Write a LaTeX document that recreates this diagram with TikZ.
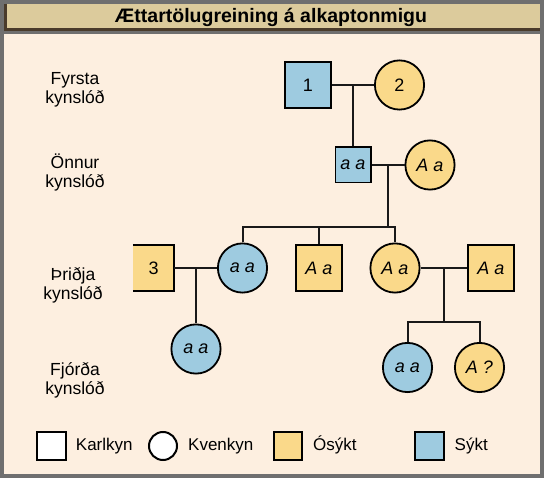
\documentclass[tikz,border=0pt]{standalone}
\usepackage{fontspec}
\setmainfont{Liberation Sans}
\usetikzlibrary{positioning}

\definecolor{framegray}{HTML}{6F6F6F}
\definecolor{cream}{HTML}{FDEFE0}
\definecolor{titletan}{HTML}{DCCB9C}
\definecolor{titlebrown}{HTML}{4A3B2B}
\definecolor{sickblue}{HTML}{9ECBE0}
\definecolor{wellyellow}{HTML}{FAD98A}

\begin{document}
\begin{tikzpicture}[x=1pt, y=-1pt,
		person/.style={draw=black, line width=1.8pt, inner sep=0pt, font=\fontsize{18}{20}\selectfont},
		man/.style={person, rectangle, minimum size=46.2pt},
		woman/.style={person, circle, minimum size=49.2pt},
		sick/.style={fill=sickblue},
		well/.style={fill=wellyellow},
		gen/.style={align=center, font=\fontsize{17.5}{19}\selectfont},
		link/.style={draw=black!90, line width=2pt},
		legtext/.style={inner sep=0pt, text height=12.5pt, text depth=3.7pt, font=\fontsize{17}{19}\selectfont}]
		\useasboundingbox (0, 0) rectangle (544, 478);
		
		% frame, body and title bar
		\fill[framegray] (0, 0) rectangle (544, 478);
		\fill[cream] (4, 34) rectangle (540, 474);
		\fill[titletan] (4, 4) rectangle (540, 29);
		\draw[titlebrown, line width=3pt] (5.5, 4) -- (5.5, 29.5) -- (540, 29.5);
		\node[font=\bfseries\fontsize{19.5}{22}\selectfont] (title) at (271, 17.5) {Ættartölugreining á alkaptonmigu};
		
		% generation labels
		\node[gen] (g1) at (75, 90) {Fyrsta\\kynslóð};
		\node[gen] (g2) at (75, 172.5) {Önnur\\kynslóð};
		\node[gen] (g3) at (73, 285) {Þriðja\\kynslóð};
		\node[gen] (g4) at (75, 380) {Fjórða\\kynslóð};
		
		% first and second generation
		\node[man, sick] (p1) at (308, 85) {1};
		\node[woman, well] (p2) at (399.5, 85) {2};
		\node[man, sick, minimum size=35.2pt] (p4) at (353, 165) {\itshape a a};
		\node[woman, well] (p5) at (430, 165) {\itshape A a};
		
		% third generation
		% box 3 is cut off on the left, so it has no left side
		\node[well, inner sep=0pt, minimum width=41.1pt, minimum height=46.2pt, font=\fontsize{18}{20}\selectfont] (p3) at (153.6, 268) {3};
		\draw[line width=1.8pt] (p3.north west) -- (p3.north east) -- (p3.south east) -- (p3.south west);
		\node[woman, sick] (p6) at (242.5, 268) {\itshape a a};
		\node[man, well] (p7) at (319, 268) {\itshape A a};
		\node[woman, well] (p8) at (395, 268) {\itshape A a};
		\node[man, well] (p9) at (491, 268) {\itshape A a};
		
		% fourth generation
		\node[woman, sick] (p10) at (196, 349) {\itshape a a};
		\node[woman, sick] (p11) at (407.5, 367.5) {\itshape a a};
		\node[woman, well] (p12) at (479.5, 367.5) {\itshape A ?};
		
		% couples and children
		\coordinate (m1) at (353, 85);
		\coordinate (m2) at (387.5, 165);
		\coordinate (s2) at (387.5, 227);
		\coordinate (m3) at (196, 268);
		\coordinate (m4) at (444, 268);
		\coordinate (s4) at (444, 322);
		\draw[link] (p1) -- (p2);
		\draw[link] (m1) -- (p4);
		\draw[link] (p4) -- (p5);
		\draw[link] (m2) -- (s2);
		\draw[link] (p6.north) |- (s2) -| (p8.north);
		\draw[link] (p7.north) -- (p7.north |- s2);
		\draw[link] (p3.east) -- (p6);
		\draw[link] (m3) -- (p10);
		\draw[link] (p8) -- (p9);
		\draw[link] (m4) -- (s4);
		\draw[link] (p11.north) |- (s4) -| (p12.north);
		
		% legend
		\node[man, fill=white, line width=2pt, minimum size=28.5pt] (k1) at (51.5, 446) {};
		\node[legtext, right=9pt of k1] (t1) {Karlkyn};
		\node[woman, fill=white, line width=2pt, minimum size=28pt] (k2) at (163, 446) {};
		\node[legtext, right=10pt of k2] (t2) {Kvenkyn};
		\node[man, well, line width=2pt, minimum size=28.5pt] (k3) at (288, 446) {};
		\node[legtext, right=9.75pt of k3] (t3) {Ósýkt};
		\node[man, sick, line width=2pt, minimum size=28.5pt] (k4) at (429.5, 446) {};
		\node[legtext, right=9.75pt of k4] (t4) {Sýkt};
	\end{tikzpicture}
\end{document}
